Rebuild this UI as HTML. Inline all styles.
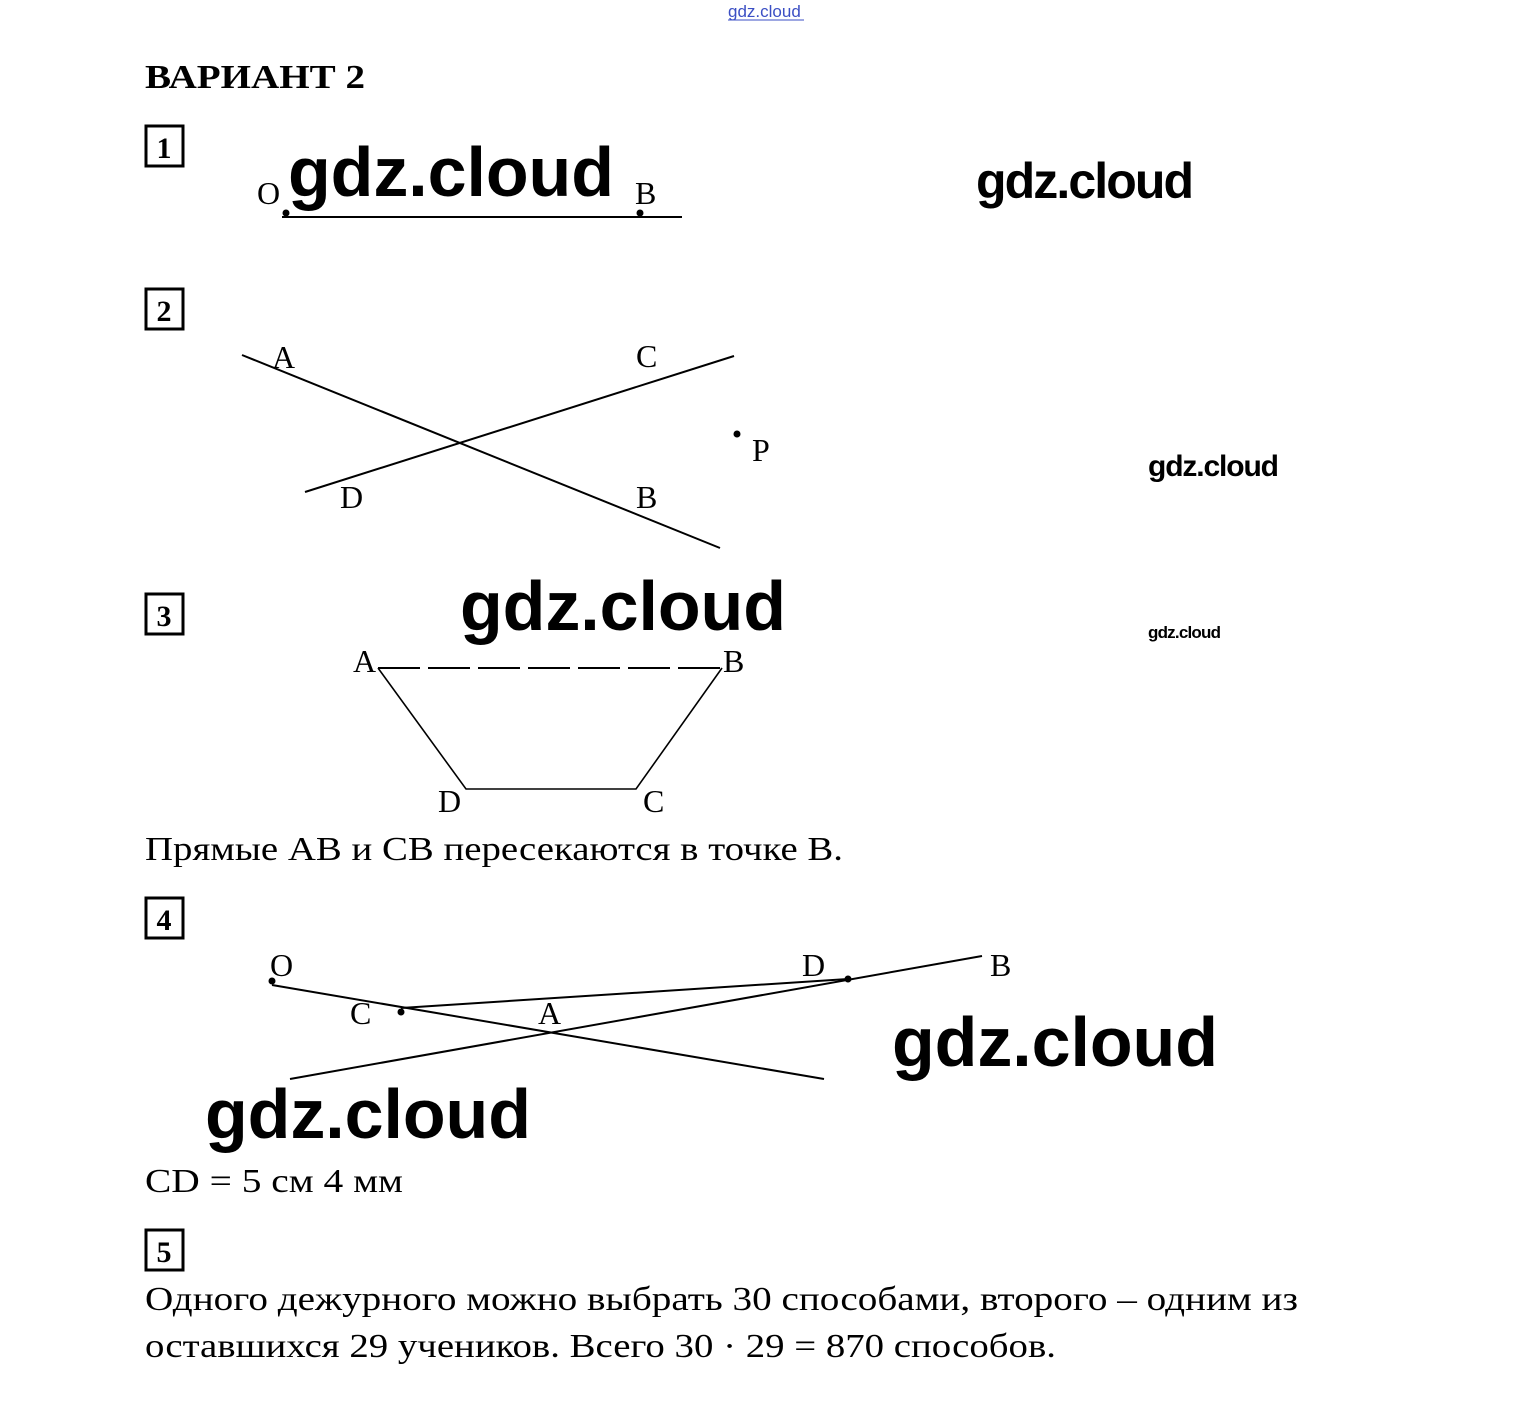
<!DOCTYPE html>
<html><head><meta charset="utf-8"><style>
html,body{margin:0;padding:0;background:#fff;}
svg{display:block;}
.s{font-family:"Liberation Serif",serif;fill:#000;}
.w{font-family:"Liberation Sans",sans-serif;font-weight:bold;fill:#000;}
</style></head><body>
<svg width="1532" height="1404" viewBox="0 0 1532 1404" xmlns="http://www.w3.org/2000/svg">
<text x="728" y="17" font-family="Liberation Sans,sans-serif" font-size="17" fill="#3b4fc4">gdz.cloud</text>
<line x1="728" y1="20" x2="804" y2="20" stroke="#3b4fc4" stroke-width="1"/>
<text class="s" x="145" y="88" font-size="34" font-weight="bold" textLength="220" lengthAdjust="spacingAndGlyphs">ВАРИАНТ 2</text>
<g fill="none" stroke="#000" stroke-width="3">
<rect x="146" y="126" width="37" height="40"/>
<rect x="146" y="289" width="37" height="40"/>
<rect x="146" y="594" width="37" height="40"/>
<rect x="146" y="898" width="37" height="40"/>
<rect x="146" y="1230" width="37" height="40"/>
</g>
<g class="s" font-size="30" font-weight="bold" text-anchor="middle">
<text x="164" y="158">1</text><text x="164" y="321">2</text><text x="164" y="626">3</text><text x="164" y="930">4</text><text x="164" y="1262">5</text>
</g>
<!-- 1 -->
<line x1="282" y1="217" x2="682" y2="217" stroke="#000" stroke-width="2"/>
<circle cx="286" cy="213" r="3.5"/><circle cx="640" cy="213" r="3.5"/>
<g class="s" font-size="32"><text x="257" y="204">O</text><text x="635" y="204">B</text></g>
<text class="w" x="288" y="196" font-size="70" textLength="326">gdz.cloud</text>
<text class="w" x="976" y="198" font-size="50" textLength="218">gdz.cloud</text>
<!-- 2 -->
<g stroke="#000" stroke-width="2"><line x1="242" y1="355" x2="720" y2="548"/><line x1="305" y1="492" x2="734" y2="356"/></g>
<circle cx="737" cy="434" r="3.5"/>
<g class="s" font-size="32"><text x="272" y="368">A</text><text x="636" y="367">C</text><text x="752" y="461">P</text><text x="340" y="508">D</text><text x="636" y="508">B</text></g>
<text class="w" x="1148" y="476" font-size="30" textLength="131">gdz.cloud</text>
<!-- 3 -->
<text class="w" x="460" y="630" font-size="70" textLength="326">gdz.cloud</text>
<text class="w" x="1148" y="638" font-size="17" font-weight="normal" textLength="73">gdz.cloud</text>
<line x1="378" y1="668" x2="722" y2="668" stroke="#000" stroke-width="2" stroke-dasharray="42,8"/>
<g stroke="#000" stroke-width="1.6" fill="none"><polyline points="378,668 466,789 636,789 722,668"/></g>
<g class="s" font-size="32"><text x="353" y="672">A</text><text x="723" y="672">B</text><text x="438" y="812">D</text><text x="643" y="812">C</text></g>
<text class="s" x="145" y="860" font-size="34" textLength="698" lengthAdjust="spacingAndGlyphs">Прямые AB и CB пересекаются в точке B.</text>
<!-- 4 -->
<g stroke="#000" stroke-width="2"><line x1="272" y1="985" x2="824" y2="1079"/><line x1="290" y1="1079" x2="982" y2="956"/><line x1="401" y1="1008" x2="848" y2="979"/></g>
<circle cx="272" cy="981" r="3.5"/><circle cx="401" cy="1012" r="3.5"/><circle cx="848" cy="979" r="3.5"/>
<g class="s" font-size="32"><text x="270" y="976">O</text><text x="350" y="1024">C</text><text x="538" y="1024">A</text><text x="802" y="976">D</text><text x="990" y="976">B</text></g>
<text class="w" x="892" y="1066" font-size="70" textLength="326">gdz.cloud</text>
<text class="w" x="205" y="1138" font-size="70" textLength="326">gdz.cloud</text>
<text class="s" x="145" y="1192" font-size="34" textLength="258" lengthAdjust="spacingAndGlyphs">CD = 5 см 4 мм</text>
<!-- 5 -->
<text class="s" x="145" y="1310" font-size="34" textLength="1153" lengthAdjust="spacingAndGlyphs">Одного дежурного можно выбрать 30 способами, второго – одним из</text>
<text class="s" x="145" y="1357" font-size="34" textLength="911" lengthAdjust="spacingAndGlyphs">оставшихся 29 учеников. Всего 30 · 29 = 870 способов.</text>
</svg>
</body></html>
